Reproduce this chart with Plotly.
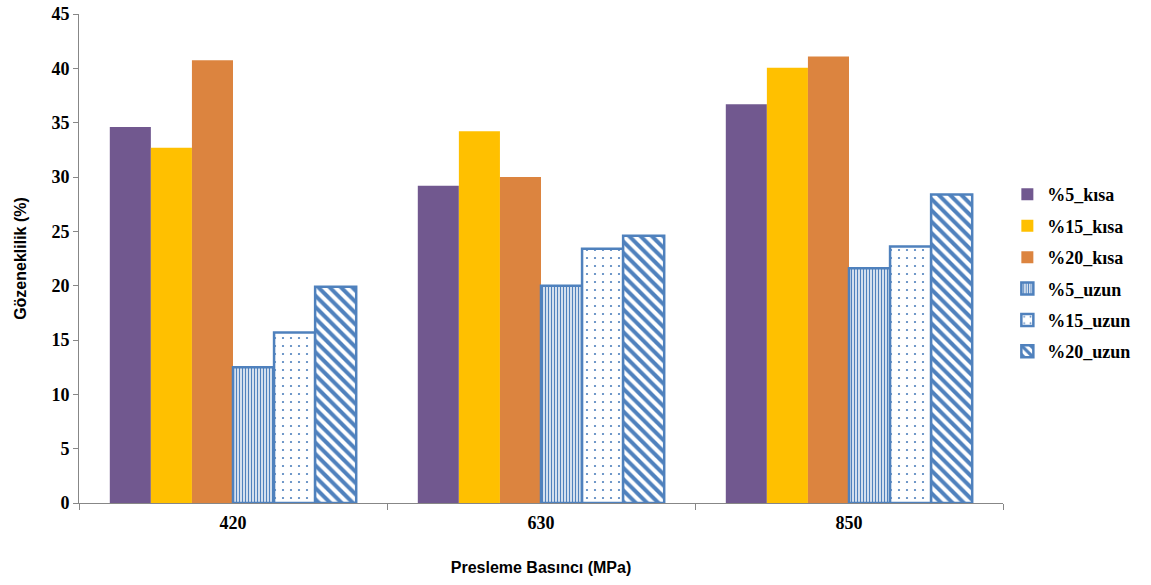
import plotly.graph_objects as go

categories = ["420", "630", "850"]
series_names = ["%5_kısa", "%15_kısa", "%20_kısa", "%5_uzun", "%15_uzun", "%20_uzun"]
kisa5 = [34.6, 29.2, 36.7]
kisa15 = [32.7, 34.2, 40.05]
kisa20 = [40.75, 30.0, 41.1]
uzun5 = [12.5, 20.0, 21.6]
uzun15 = [15.7, 23.4, 23.6]
uzun20 = [19.9, 24.6, 28.4]
y_ticks = [0, 5, 10, 15, 20, 25, 30, 35, 40, 45]

blue = "#4F81BD"
fig = go.Figure()
solid = [(kisa5, "#71588F"), (kisa15, "#FFC000"), (kisa20, "#DC843F")]
for (vals, col), name in zip(solid, series_names[:3]):
    fig.add_trace(go.Bar(x=categories, y=vals, name=name, legendgroup=name,
                         marker=dict(color=col, line=dict(color=col, width=0))))
patterned = [(uzun5, "|", 3, 0.5), (uzun15, ".", 8, 0.06), (uzun20, "\\", 8, 0.5)]
for (vals, shape, size, sol), name in zip(patterned, series_names[3:]):
    fig.add_trace(go.Bar(x=categories, y=vals, name=name, legendgroup=name,
                         marker=dict(color="white", line=dict(color=blue, width=2.5),
                                     pattern=dict(shape=shape, fgcolor=blue, bgcolor="white",
                                                  size=size, solidity=sol, fillmode="overlay",
                                                  fgopacity=1))))

fig.update_layout(
    width=1151, height=585,
    margin=dict(l=79, r=0, t=14, b=82),
    plot_bgcolor="white", paper_bgcolor="white",
    barmode="group", bargap=0.2, bargroupgap=0,
    font=dict(family="Liberation Serif", color="black"),
    legend=dict(x=0.866, y=0.47, xanchor="left", yanchor="middle",
                font=dict(family="Liberation Serif", size=18, color="black", weight="bold"),
                tracegroupgap=5, itemwidth=30),
    showlegend=True,
)
fig.update_xaxes(
    automargin=False, domain=[0, 924 / 1072],
    showline=True, linecolor="#878787", linewidth=1,
    ticks="outside", tickson="boundaries", ticklen=6, tickcolor="#878787",
    ticklabelstandoff=3,
    tickfont=dict(family="Liberation Serif", size=18, color="black", weight="bold"),
    title=dict(text="Presleme Basıncı (MPa)", font=dict(family="Liberation Sans", size=16, color="black", weight="bold"), standoff=30),
)
fig.update_yaxes(
    automargin=False,
    range=[0, 45], tickvals=y_ticks,
    showline=True, linecolor="#878787", linewidth=1,
    ticks="outside", ticklen=5, tickcolor="#878787", showgrid=False, zeroline=False,
    tickfont=dict(family="Liberation Serif", size=18, color="black", weight="bold"),
    title=dict(text="Gözeneklilik (%)", font=dict(family="Liberation Sans", size=16, color="black", weight="bold"), standoff=20),
)
fig.write_html("out.html")
